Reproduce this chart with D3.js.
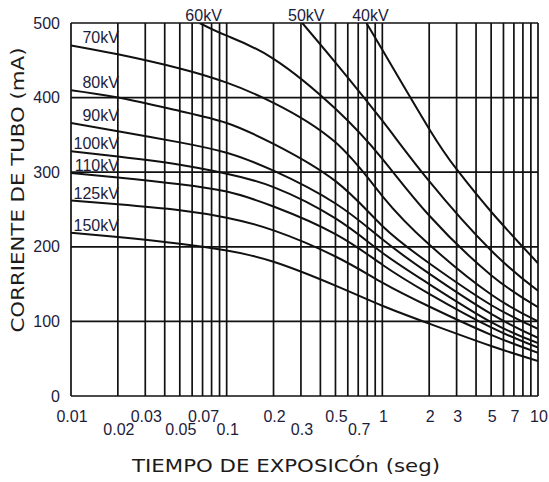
<!DOCTYPE html>
<html>
    <head>
        <meta charset="utf-8">
        <title>Corriente de tubo</title>
        <style>
            body { margin: 0; background: white; }
            svg { display: block; }
            .grid line { stroke: #111; stroke-width: 1.7; }
            .curve { fill: none; stroke: #111; stroke-width: 2; }
            .tick { font-family: "Liberation Sans", Arial, sans-serif; font-size: 16px; fill: #1c1c3c; }
            .kv { font-family: "Liberation Sans", Arial, sans-serif; font-size: 16px; fill: #1c1c3c; }
            .title { font-family: "DejaVu Sans", Verdana, sans-serif; font-size: 18px; fill: #1e1a1a; }
        </style>
    </head>
    <body>
        <svg width="549" height="482"></svg>

        <script src="https://d3js.org/d3.v7.min.js"></script>
        <script>
            // tick labels, two staggered rows on the time axis
            let xLabelsTop = [0.01, 0.03, 0.07, 0.2, 0.5, 1, 2, 3, 5, 7, 10];
            let xLabelsBottom = [0.02, 0.05, 0.1, 0.3, 0.7];
            let yLabels = [0, 100, 200, 300, 400, 500];

            // curves starting at the left edge (seconds -> mA)
            let times = [0.01, 0.02, 0.05, 0.1, 0.2, 0.5, 1, 2, 5, 10];
            let kv70  = [470, 458, 439, 420, 393, 340, 268, 203, 136, 100];
            let kv80  = [410, 400, 382, 366, 338, 288, 228, 178, 122, 90];
            let kv90  = [366, 355, 340, 326, 302, 258, 210, 164, 110, 78];
            let kv100 = [328, 321, 310, 298, 280, 238, 192, 150, 99, 71];
            let kv110 = [299, 293, 284, 274, 254, 217, 176, 137, 92, 65];
            let kv125 = [262, 257, 249, 239, 222, 187, 152, 120, 82, 58];
            let kv150 = [219, 213, 204, 195, 180, 148, 121, 97, 67, 47];

            // curves starting at the top edge
            let times60 = [0.067, 0.1, 0.2, 0.5, 1, 2, 5, 10];
            let kv60    = [500, 483, 452, 385, 318, 242, 162, 119];
            let times50 = [0.306, 0.5, 1, 2, 5, 10];
            let kv50    = [500, 447, 369, 288, 195, 141];
            let times40 = [0.79, 1, 2, 3, 5, 10];
            let kv40    = [500, 464, 358, 304, 247, 178];

            let leftNames = ['70kV', '80kV', '90kV', '100kV', '110kV', '125kV', '150kV'];
            let leftSeries = [kv70, kv80, kv90, kv100, kv110, kv125, kv150];
            let topNames = ['60kV', '50kV', '40kV'];
            let topSeries = [[times60, kv60], [times50, kv50], [times40, kv40]];

            let svg = d3.select('svg');

            let x = d3.scaleLog()
                .domain([0.01, 10])
                .range([71, 538]);
            let y = d3.scaleLinear()
                .domain([0, 500])
                .range([396, 23]);

            // log grid: every 1..9 of each decade
            let grid = svg.append('g').attr('class', 'grid');
            grid.selectAll('.v')
                .data(x.ticks())
                .enter().append('line')
                    .attr('x1', d => x(d)).attr('x2', d => x(d))
                    .attr('y1', y(0)).attr('y2', y(500));
            grid.selectAll('.h')
                .data(yLabels)
                .enter().append('line')
                    .attr('x1', x(0.01)).attr('x2', x(10))
                    .attr('y1', d => y(d)).attr('y2', d => y(d));

            svg.append('clipPath').attr('id', 'plot')
                .append('rect')
                    .attr('x', x(0.01)).attr('y', y(500))
                    .attr('width', x(10) - x(0.01)).attr('height', y(0) - y(500));

            let line = d3.line()
                .x(d => x(d[0]))
                .y(d => y(d[1]))
                .curve(d3.curveNatural);

            let curves = svg.append('g').attr('clip-path', 'url(#plot)');
            leftSeries.forEach(function(s) {
                curves.append('path')
                    .attr('class', 'curve')
                    .attr('d', line(d3.zip(times, s)));
            });
            topSeries.forEach(function(s) {
                curves.append('path')
                    .attr('class', 'curve')
                    .attr('d', line(d3.zip(s[0], s[1])));
            });

            // kV labels sitting on the left ends of the curves
            svg.selectAll('.kvLeft')
                .data(leftSeries)
                .enter().append('text')
                    .attr('class', 'kv')
                    .attr('x', x(0.02) + 1)
                    .attr('y', d => y(d[0]) - 2)
                    .attr('text-anchor', 'end')
                    .text((d, i) => leftNames[i]);

            svg.selectAll('.kvTop')
                .data(topSeries)
                .enter().append('text')
                    .attr('class', 'kv')
                    .attr('x', d => x(d[0][0]) + 4)
                    .attr('y', y(500) - 2)
                    .attr('text-anchor', 'middle')
                    .text((d, i) => topNames[i]);

            // axis labels
            svg.selectAll('.yTick')
                .data(yLabels)
                .enter().append('text')
                    .attr('class', 'tick')
                    .attr('x', 60)
                    .attr('y', d => y(d))
                    .attr('dy', '0.35em')
                    .attr('text-anchor', 'end')
                    .text(d => d);

            svg.selectAll('.xTop')
                .data(xLabelsTop)
                .enter().append('text')
                    .attr('class', 'tick')
                    .attr('x', d => x(d) + 1)
                    .attr('y', 422)
                    .attr('text-anchor', 'middle')
                    .text(d => d);
            svg.selectAll('.xBottom')
                .data(xLabelsBottom)
                .enter().append('text')
                    .attr('class', 'tick')
                    .attr('x', d => x(d) + 1)
                    .attr('y', 435)
                    .attr('text-anchor', 'middle')
                    .text(d => d);

            svg.append('text')
                .attr('class', 'title')
                .attr('x', 286)
                .attr('y', 472)
                .attr('text-anchor', 'middle')
                .attr('textLength', 308)
                .attr('lengthAdjust', 'spacingAndGlyphs')
                .text('TIEMPO DE EXPOSICÓn (seg)');

            svg.append('text')
                .attr('class', 'title')
                .attr('transform', 'translate(24,190) rotate(-90)')
                .attr('text-anchor', 'middle')
                .attr('textLength', 285)
                .attr('lengthAdjust', 'spacingAndGlyphs')
                .text('CORRIENTE DE TUBO (mA)');
        </script>
    </body>
</html>
